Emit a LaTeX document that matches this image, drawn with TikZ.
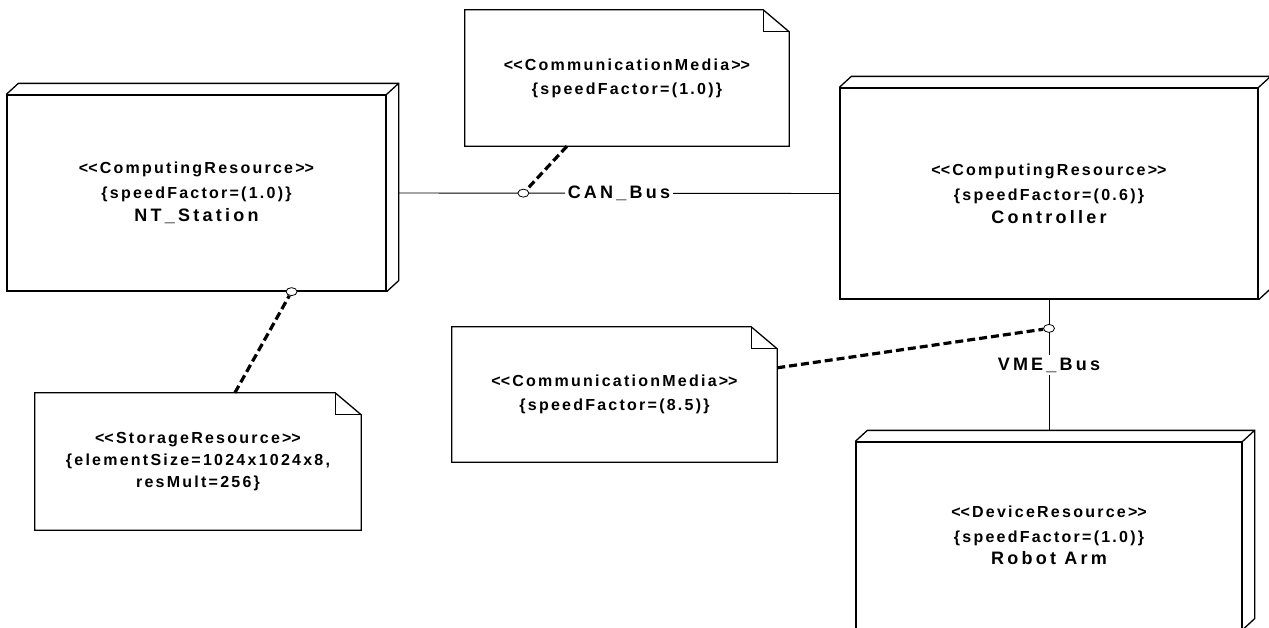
\documentclass[tikz,border=0pt]{standalone}
\usepackage{fontspec}
\usetikzlibrary{calc,shapes.geometric}
\newfontfamily\umlfont{Liberation Sans}[LetterSpace=14]
\newfontfamily\umlname{Liberation Sans}[LetterSpace=18]
\newcommand\umlL{<\kern0pt<}
\newcommand\umlR{>\kern0pt>}
\newcommand\nmf{\umlname\bfseries\fontsize{18}{22}\selectfont}
\begin{document}
\begin{tikzpicture}[x=1pt,y=-1pt,
  res/.style={draw=black, line width=1.3pt, inner sep=0pt, align=center,
    font=\umlfont\bfseries\fontsize{16}{25}\selectfont},
  res3d/.style={draw=black, line width=1.3pt, line join=miter},
  notebox/.style={inner sep=0pt, align=center,
    font=\umlfont\bfseries\fontsize{16}{24}\selectfont},
  noteline/.style={draw=black, line width=1.3pt},
  bus/.style={draw=black, line width=0.9pt},
  dep/.style={draw=black, line width=3.2pt, dash pattern=on 8pt off 4pt},
  port/.style={ellipse, draw=black, fill=white, line width=0.8pt,
    minimum width=11pt, minimum height=8pt, inner sep=0pt},
  lbl/.style={fill=white, inner sep=3pt, font=\nmf}]
\useasboundingbox[fill=white] (0,0) rectangle (1269,627);

% resources
\node[res, minimum width=379pt, minimum height=196pt] (nt) at (196.5,193)
  {\umlL ComputingResource\umlR\\ \{speedFactor=(1.0)\}\\[-2pt] {\nmf NT\_Station}};
\node[res, minimum width=418pt, minimum height=211pt] (ctrl) at (1049,193.5)
  {\umlL ComputingResource\umlR\\ \{speedFactor=(0.6)\}\\[-2pt] {\nmf Controller}};
\node[res, minimum width=386pt, minimum height=187pt] (robot) at (1049,535.5)
  {\umlL DeviceResource\umlR\\ \{speedFactor=(1.0)\}\\[-3pt] {\nmf Robot Arm}};
\foreach \n in {nt,ctrl,robot}{
  \draw[res3d] (\n.north west) -- ++(12,-11) -- ($(\n.north east)+(12,-11)$)
    -- ($(\n.south east)+(12,-11)$) -- (\n.south east);
  \draw[res3d] (\n.north east) -- ++(12,-11);
}

% notes
\node[notebox, minimum width=324pt, minimum height=136pt] (n1) at (627,78)
  {\umlL CommunicationMedia\umlR\\ \{speedFactor=(1.0)\}};
\node[notebox, minimum width=325pt, minimum height=135pt] (n2) at (614.5,394.5)
  {\umlL CommunicationMedia\umlR\\ \{speedFactor=(8.5)\}};
\node[notebox, minimum width=326pt, minimum height=137pt] (n3) at (198,461.5)
  {\umlL StorageResource\umlR\\[-2pt] \{elementSize=1024x1024x8,\\[-2pt] resMult=256\}};
\foreach \n in {n1,n2,n3}{
  \draw[noteline] (\n.north west) -- ($(\n.north east)+(-26,0)$)
    -- ($(\n.north east)+(0,22)$) -- (\n.south east) -- (\n.south west) -- cycle;
  \draw[noteline] ($(\n.north east)+(-26,0)$) |- ($(\n.north east)+(0,22)$);
}

% buses
\draw[bus] ($(nt.east)+(12,0)$) -- node[port, pos=0.283] (p1) {}
  node[lbl, pos=0.5] {CAN\_Bus} (ctrl.west);
\draw[bus] (ctrl.south) -- node[port, pos=0.22] (p3) {}
  node[lbl, pos=0.5] {VME\_Bus} ($(robot.north)+(0,-11)$);
\node[port] (p2) at ($(nt.south west)!0.75!(nt.south east)$) {};

% dependencies
\draw[dep] ($(n1.south west)!0.315!(n1.south east)$) -- (p1);
\draw[dep] ($(n2.north east)+(0,41)$) -- (p3);
\draw[dep] ($(n3.north west)!0.613!(n3.north east)$) -- (p2);
\end{tikzpicture}
\end{document}
